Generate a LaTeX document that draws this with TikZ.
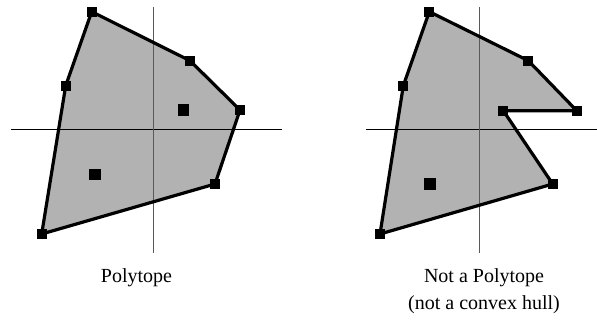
\documentclass[tikz,border=0pt]{standalone}
\usepackage{fontspec}
\setmainfont{Liberation Serif}
\usetikzlibrary{positioning}

\begin{document}
\begin{tikzpicture}[
    x=0.5pt, y=-0.5pt,
    vertex/.style={
        rectangle,
        fill=black,
        inner sep=0pt,
        minimum size=5pt
    },
    inner/.style={vertex, minimum size=5.8pt},
    hull/.style={line width=1.6pt, line join=round},
    region/.style={fill=black!30},
    haxis/.style={line width=0.5pt, black},
    vaxis/.style={line width=0.5pt, black!65},
    caption/.style={font=\fontsize{10}{13.5}\selectfont, align=center}
]
\useasboundingbox (0,0) rectangle (597,320);

% left: polytope
\coordinate (pa) at (91.7,11.7);
\coordinate (pb) at (190,60.7);
\coordinate (pc) at (240,110);
\coordinate (pd) at (215,184);
\coordinate (pe) at (41.7,234);
\coordinate (pf) at (65.7,85.7);
\coordinate (lxl) at (11,130);
\coordinate (lxr) at (282,130);
\coordinate (lyt) at (153.3,7);
\coordinate (lyb) at (153.3,253);

\fill[region] (pa) -- (pb) -- (pc) -- (pd) -- (pe) -- (pf) -- cycle;
\draw[haxis] (lxl) -- (lxr);
\draw[vaxis] (lyt) -- (lyb);
\draw[hull] (pa) -- (pb) -- (pc) -- (pd) -- (pe) -- (pf) -- cycle;

\node[vertex] (va) at (pa) {};
\node[vertex] (vb) at (pb) {};
\node[vertex] (vc) at (pc) {};
\node[vertex] (vd) at (pd) {};
\node[vertex] (ve) at (pe) {};
\node[vertex] (vf) at (pf) {};
\node[inner] (pin1) at (183.3,110) {};
\node[inner] (pin2) at (94.7,174.3) {};

\node[caption] (polytope) at (136.5,278) {Polytope};

% right: not a polytope
\coordinate (qa) at (429.3,11.7);
\coordinate (qb) at (528.3,60.7);
\coordinate (qc) at (576.7,110.7);
\coordinate (qd) at (503.3,110.7);
\coordinate (qe) at (552.7,184);
\coordinate (qf) at (380,234);
\coordinate (qg) at (403.3,85.7);
\coordinate (rxl) at (365.7,130);
\coordinate (rxr) at (597,130);
\coordinate (ryt) at (479,7);
\coordinate (ryb) at (479,253);

\fill[region] (qa) -- (qb) -- (qc) -- (qd) -- (qe) -- (qf) -- (qg) -- cycle;
\draw[haxis] (rxl) -- (rxr);
\draw[vaxis] (ryt) -- (ryb);
\draw[hull] (qa) -- (qb) -- (qc) -- (qd) -- (qe) -- (qf) -- (qg) -- cycle;

\node[vertex] (wa) at (qa) {};
\node[vertex] (wb) at (qb) {};
\node[vertex] (wc) at (qc) {};
\node[vertex] (wd) at (qd) {};
\node[vertex] (we) at (qe) {};
\node[vertex] (wf) at (qf) {};
\node[vertex] (wg) at (qg) {};
\node[inner] (qin1) at (430,184) {};

\node[caption] (notpolytope) at (484,291.5) {Not a Polytope\\(not a convex hull)};

\end{tikzpicture}
\end{document}
